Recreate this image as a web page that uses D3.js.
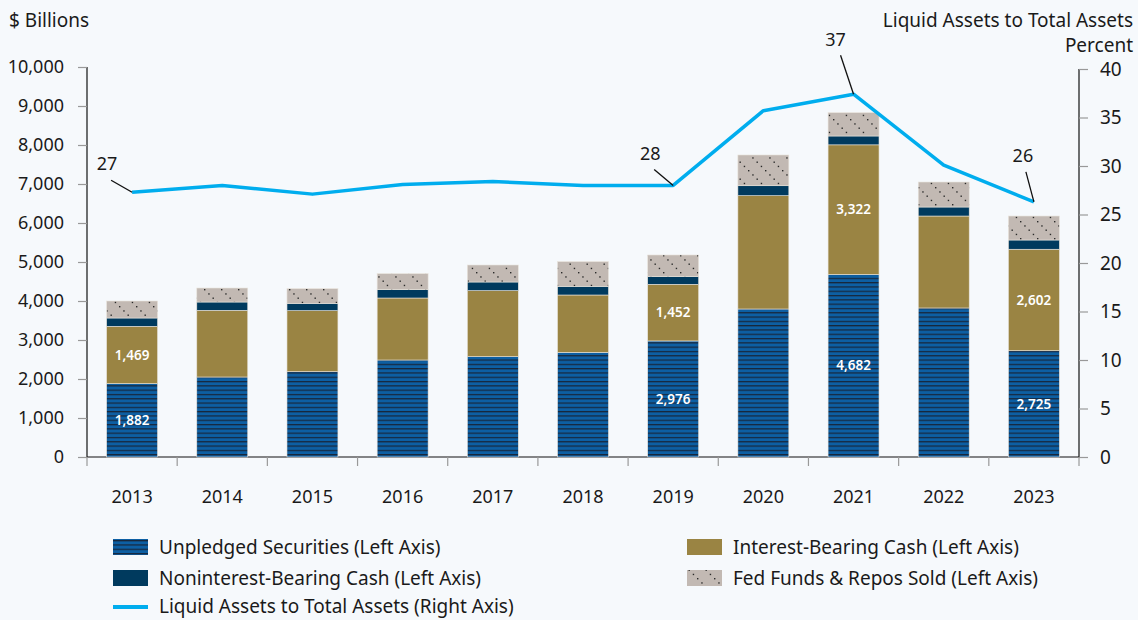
<!DOCTYPE html>
<html><head><meta charset="utf-8">
<script src="https://cdn.jsdelivr.net/npm/d3@7"></script>
<style>
html,body{margin:0;padding:0;background:#f6f9fc;}
svg{display:block;font-family:"Noto Sans",sans-serif;}
</style></head>
<body><svg id="c" width="1138" height="620"></svg>
<script>
const years = ["2013","2014","2015","2016","2017","2018","2019","2020","2021","2022","2023"];
const unpledged = [1882,2051,2188,2487,2573,2684,2976,3795,4682,3821,2725];
const interestCash = [1469,1710,1564,1590,1692,1470,1452,2905,3322,2358,2602];
const nonintCash = [213,213,188,214,222,222,196,256,227,231,237];
const fedFunds = [436,359,376,410,436,633,556,788,598,641,615];
const liquidRatio = [27.3,28.0,27.1,28.1,28.4,28.0,28.0,35.7,37.4,30.1,26.3];
const leftTicks = [0,1000,2000,3000,4000,5000,6000,7000,8000,9000,10000];
const rightTicks = [0,5,10,15,20,25,30,35,40];
const labeledYears = ["2013","2019","2021","2023"];
const annotated = [{year:"2013",text:"27"},{year:"2019",text:"28"},{year:"2021",text:"37"},{year:"2023",text:"26"}];

const svg = d3.select("#c");
const M = {left:87, right:1079, top:67, bottom:457};
const x = d3.scaleBand().domain(years).range([M.left,M.right]).paddingInner(0.435).paddingOuter(0.2175);
const yL = d3.scaleLinear().domain([0,10000]).range([M.bottom,M.top]);
const yR = d3.scaleLinear().domain([0,40]).range([M.bottom,69]);

const defs = svg.append("defs");
const ps = defs.append("pattern").attr("id","stripes").attr("patternUnits","userSpaceOnUse").attr("width",8).attr("height",4.3);
ps.append("rect").attr("width",8).attr("height",4.3).attr("fill","#0d5fa3");
ps.append("rect").attr("y",2.6).attr("width",8).attr("height",1.2).attr("fill","#17263a");
const pd = defs.append("pattern").attr("id","dots").attr("patternUnits","userSpaceOnUse").attr("width",17).attr("height",17);
pd.append("rect").attr("width",17).attr("height",17).attr("fill","#c2b9b3");
[0,4.25,8.5,12.75].forEach(d=>{
  pd.append("rect").attr("x",d).attr("y",d).attr("width",1.4).attr("height",1.4).attr("fill","#2a2a2a");
});

const series = [
  {name:"Unpledged Securities (Left Axis)", vals:unpledged, fill:"url(#stripes)"},
  {name:"Interest-Bearing Cash (Left Axis)", vals:interestCash, fill:"#9a8443"},
  {name:"Noninterest-Bearing Cash (Left Axis)", vals:nonintCash, fill:"#003a5e"},
  {name:"Fed Funds & Repos Sold (Left Axis)", vals:fedFunds, fill:"url(#dots)"}
];
const rows = years.map((y,i)=>({year:y, u:unpledged[i], ib:interestCash[i], n:nonintCash[i], f:fedFunds[i]}));
const stack = d3.stack().keys(["u","ib","n","f"])(rows);

// axes
const gL = svg.append("g").attr("transform",`translate(${M.left},0)`)
  .call(d3.axisLeft(yL).tickValues(leftTicks).tickFormat(d3.format(",")).tickSize(9).tickPadding(14));
const gR = svg.append("g").attr("transform",`translate(${M.right},0)`)
  .call(d3.axisRight(yR).tickValues(rightTicks).tickSize(9).tickPadding(12));
const gX = svg.append("g").attr("transform",`translate(0,${M.bottom})`)
  .call(d3.axisBottom(x).tickSize(0).tickPadding(33));
[gL,gR,gX].forEach(g=>{
  g.select(".domain").attr("stroke","#111").attr("stroke-width",1.2);
  g.selectAll(".tick line").attr("stroke","#999").attr("stroke-width",1.2);
  g.selectAll(".tick text").attr("font-size",18).attr("fill","#1a1a1a").attr("font-family","Noto Sans");
});
gR.selectAll(".tick text").attr("font-size",19);
gL.select(".domain").attr("d",`M0,${M.bottom}V${M.top}`);
gR.select(".domain").attr("d",`M0,${M.bottom}V69`);
gX.select(".domain").attr("d",`M${M.left},0H${M.right}`);
// x boundary ticks
const bounds = d3.range(years.length+1).map(i=>M.left + i*(M.right-M.left)/years.length);
gX.selectAll(".btick").data(bounds).enter().append("line")
  .attr("x1",d=>d).attr("x2",d=>d).attr("y1",0).attr("y2",9).attr("stroke","#999").attr("stroke-width",1.2);

// bars
stack.forEach((layer,li)=>{
  svg.append("g").selectAll("rect").data(layer).enter().append("rect")
    .attr("x",d=>x(d.data.year)).attr("width",x.bandwidth())
    .attr("y",d=>yL(d[1])).attr("height",d=>yL(d[0])-yL(d[1]))
    .attr("fill",series[li].fill).attr("stroke","#e9e4dc").attr("stroke-width",0.6);
});
// value labels
[0,1].forEach(li=>{
  svg.append("g").selectAll("text").data(stack[li].filter(d=>labeledYears.includes(d.data.year))).enter().append("text")
    .attr("x",d=>x(d.data.year)+x.bandwidth()/2).attr("y",d=>(yL(d[0])+yL(d[1]))/2)
    .attr("dy","0.35em").attr("text-anchor","middle").attr("fill","#fff")
    .attr("font-size",13.5).attr("font-weight",600).text(d=>d3.format(",")(d[1]-d[0]));
});

// line
const line = d3.line().x((d,i)=>x(years[i])+x.bandwidth()/2).y(d=>yR(d));
svg.append("path").datum(liquidRatio).attr("d",line).attr("fill","none")
  .attr("stroke","#00adee").attr("stroke-width",3.5).attr("stroke-linejoin","round");

// annotations: [leader end dx, dy, label dx, baseline dy]
const annOff = {"2013":[-21,-12,-25,-22],"2019":[-19,-16,-23,-25],"2021":[-13,-39,-18,-48],"2023":[-8,-30,-11,-40]};
annotated.forEach(a=>{
  const i = years.indexOf(a.year);
  const px = x(a.year)+x.bandwidth()/2, py = yR(liquidRatio[i]);
  const o = annOff[a.year];
  svg.append("line").attr("x1",px).attr("y1",py).attr("x2",px+o[0]).attr("y2",py+o[1])
    .attr("stroke","#111").attr("stroke-width",1.3);
  svg.append("text").attr("x",px+o[2]).attr("y",py+o[3]).attr("text-anchor","middle")
    .attr("font-size",18).attr("fill","#1a1a1a").text(a.text);
});

// titles
svg.append("text").attr("x",9).attr("y",27).attr("font-size",19).attr("fill","#1a1a1a").text("$ Billions");
svg.append("text").attr("x",1133).attr("y",27).attr("text-anchor","end").attr("font-size",19).attr("fill","#1a1a1a").text("Liquid Assets to Total Assets");
svg.append("text").attr("x",1133).attr("y",52).attr("text-anchor","end").attr("font-size",19).attr("fill","#1a1a1a").text("Percent");

// legend
const legendItems = [
  {s:0, x:113, y:547},{s:1, x:687, y:547},
  {s:2, x:113, y:578},{s:3, x:687, y:578}
];
const lg = svg.append("g");
legendItems.forEach(it=>{
  lg.append("rect").attr("x",it.x).attr("y",it.y-8).attr("width",35).attr("height",16).attr("fill",series[it.s].fill);
  lg.append("text").attr("x",it.x+46).attr("y",it.y).attr("dy","0.35em").attr("font-size",19).attr("fill","#1a1a1a").text(series[it.s].name);
});
lg.append("line").attr("x1",113).attr("x2",148).attr("y1",607).attr("y2",607).attr("stroke","#00adee").attr("stroke-width",4);
lg.append("text").attr("x",159).attr("y",606).attr("dy","0.35em").attr("font-size",19).attr("fill","#1a1a1a").text("Liquid Assets to Total Assets (Right Axis)");
</script></body></html>
